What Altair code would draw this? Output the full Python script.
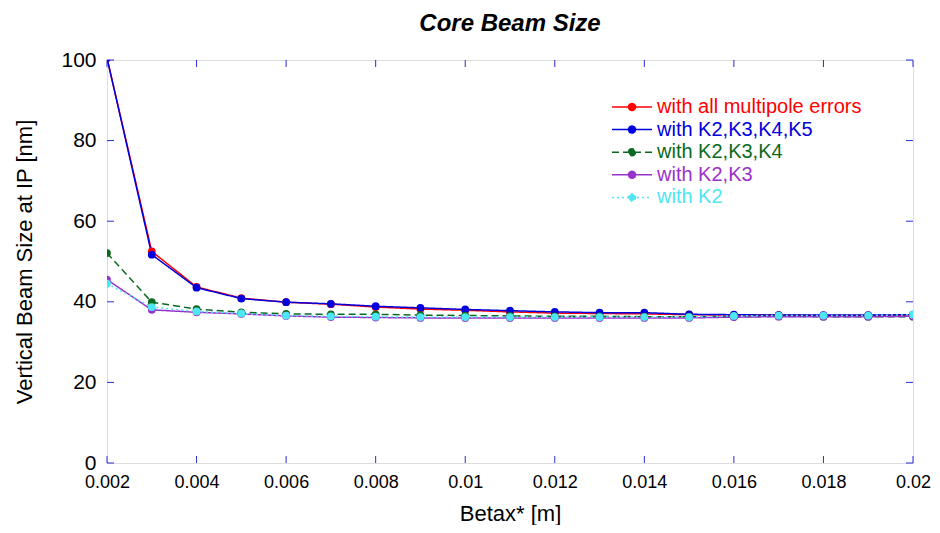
import altair as alt
import pandas as pd

betax = [0.002, 0.003, 0.004, 0.005, 0.006, 0.007, 0.008, 0.009, 0.010, 0.011,
         0.012, 0.013, 0.014, 0.015, 0.016, 0.017, 0.018, 0.019, 0.020]

series_names = ["with all multipole errors", "with K2,K3,K4,K5", "with K2,K3,K4",
                "with K2,K3", "with K2"]

all_errors = [100.5, 52.5, 43.7, 40.9, 39.9, 39.4, 38.7, 38.2, 37.9, 37.5,
              37.2, 37.1, 37.0, 36.8, 36.7, 36.7, 36.6, 36.6, 36.7]
k2_k5 = [100.5, 51.7, 43.5, 40.8, 39.9, 39.5, 38.9, 38.5, 38.1, 37.8,
         37.5, 37.3, 37.3, 36.9, 36.8, 36.7, 36.7, 36.7, 36.8]
k2_k4 = [52.1, 39.9, 38.2, 37.4, 37.0, 36.9, 36.9, 36.7, 36.6, 36.5,
         36.4, 36.4, 36.3, 36.3, 36.3, 36.4, 36.3, 36.3, 36.3]
k2_k3 = [45.5, 38.0, 37.4, 37.0, 36.5, 36.2, 36.1, 36.0, 36.0, 36.0,
         36.0, 36.0, 36.0, 36.0, 36.2, 36.3, 36.3, 36.3, 36.4]
k2 = [44.5, 38.7, 37.6, 37.1, 36.6, 36.4, 36.3, 36.2, 36.2, 36.2,
      36.2, 36.2, 36.2, 36.2, 36.5, 36.6, 36.6, 36.6, 36.8]

x_ticks = [0.002, 0.004, 0.006, 0.008, 0.01, 0.012, 0.014, 0.016, 0.018, 0.02]
y_ticks = [0, 20, 40, 60, 80, 100]

colors = ["#ff0000", "#0000dd", "#0b6a20", "#9932cc", "#4ee6f2"]
dashes = [[1, 0], [1, 0], [7, 4], [1, 0], [2, 3]]
widths = [1.5, 1.5, 1.3, 1.0, 1.6]

all_series = [all_errors, k2_k5, k2_k4, k2_k3, k2]
rows = []
for name, vals in zip(series_names, all_series):
    for b, v in zip(betax, vals):
        rows.append({"series": name, "betax": b, "size": v})
df = pd.DataFrame(rows)
xt_df = pd.DataFrame({"t": x_ticks})
yt_df = pd.DataFrame({"t": y_ticks})

FONT = "Liberation Sans"
FRAME = "#2a2ad8"
W, H = 806, 403
TICK = 7

x_scale = alt.Scale(domain=[0.002, 0.02], nice=False, zero=False)
y_scale = alt.Scale(domain=[0, 100], nice=False, zero=True)

legend = alt.Legend(
    title=None, orient="none", legendX=515, legendY=37,
    symbolType="M-4,0H4M0.7,0A0.7,0.7,0,1,1,-0.7,0A0.7,0.7,0,1,1,0.7,0Z",
    symbolSize=100, symbolStrokeWidth=1.5, symbolOpacity=1,
    symbolFillColor={"expr": "scale('color', datum.value)"},
    symbolStrokeColor={"expr": "scale('color', datum.value)"},
    symbolDash={"expr": "scale('strokeDash', datum.value)"},
    labelColor={"expr": "scale('color', datum.value)"},
    labelFont=FONT, labelFontSize=20, labelOffset=15, labelLimit=400,
    rowPadding=2.6, padding=0,
)

color = alt.Color("series:N", scale=alt.Scale(domain=series_names, range=colors),
                  legend=legend, sort=series_names)
dash = alt.StrokeDash("series:N", scale=alt.Scale(domain=series_names, range=dashes),
                      legend=None)
width = alt.StrokeWidth("series:N", scale=alt.Scale(domain=series_names, range=widths),
                        legend=None)

text_style = dict(grid=False, domain=False, ticks=False, tickSize=0, labelFont=FONT,
                  labelColor="black", titleFont=FONT, titleColor="black",
                  titleFontWeight="normal", labelFlush=False, labelOverlap=False)

x_main = alt.Axis(orient="bottom", values=x_ticks, format="~g", labelPadding=10,
                  labelFontSize=18, titleFontSize=22, titlePadding=12, **text_style)
y_main = alt.Axis(orient="left", values=y_ticks, labelPadding=11, labelFontSize=21,
                  titleFontSize=22, titlePadding=24, **text_style)

base = alt.Chart(df)

lines_a = base.transform_filter(
    alt.FieldOneOfPredicate(field="series", oneOf=series_names[:2])
).mark_line(clip=True).encode(
    x=alt.X("betax:Q", scale=x_scale, axis=x_main, title="Betax* [m]"),
    y=alt.Y("size:Q", scale=y_scale, axis=y_main, title="Vertical Beam Size at IP [nm]"),
    color=color, strokeDash=dash, strokeWidth=width,
)

lines_b = base.transform_filter(
    alt.FieldOneOfPredicate(field="series", oneOf=series_names[2:])
).mark_line(clip=True).encode(
    x=alt.X("betax:Q", scale=x_scale, axis=None),
    y=alt.Y("size:Q", scale=y_scale, axis=None),
    color=color, strokeDash=dash, strokeWidth=width,
)

points = base.mark_point(filled=True, size=60, opacity=1, clip=True).encode(
    x=alt.X("betax:Q", scale=x_scale, axis=None),
    y=alt.Y("size:Q", scale=y_scale, axis=None),
    color=color,
)

# inward tick marks on all four sides of the frame
tick_bottom = alt.Chart(xt_df).mark_rule(color=FRAME, strokeWidth=1).encode(
    x=alt.X("t:Q", scale=x_scale, axis=None), y=alt.value(H), y2=alt.value(H - TICK))
tick_top = alt.Chart(xt_df).mark_rule(color=FRAME, strokeWidth=1).encode(
    x=alt.X("t:Q", scale=x_scale, axis=None), y=alt.value(0), y2=alt.value(TICK))
tick_left = alt.Chart(yt_df).mark_rule(color=FRAME, strokeWidth=1).encode(
    y=alt.Y("t:Q", scale=y_scale, axis=None), x=alt.value(0), x2=alt.value(TICK))
tick_right = alt.Chart(yt_df).mark_rule(color=FRAME, strokeWidth=1).encode(
    y=alt.Y("t:Q", scale=y_scale, axis=None), x=alt.value(W), x2=alt.value(W - TICK))

chart = alt.layer(
    tick_bottom, tick_top, tick_left, tick_right, lines_a, lines_b, points
).resolve_axis(
    x="independent", y="independent"
).properties(
    width=W, height=H,
    autosize=alt.AutoSizeParams(type="none"),
    padding={"left": 99, "top": 52, "right": 19, "bottom": 62},
    title=alt.TitleParams("Core Beam Size", font=FONT, fontSize=24, fontWeight="bold",
                          fontStyle="italic", color="black", offset=13, anchor="middle"),
).configure_view(stroke=FRAME, strokeWidth=1).configure(background="white")

chart.save("out.html", embed_options={"renderer": "svg", "actions": False})
